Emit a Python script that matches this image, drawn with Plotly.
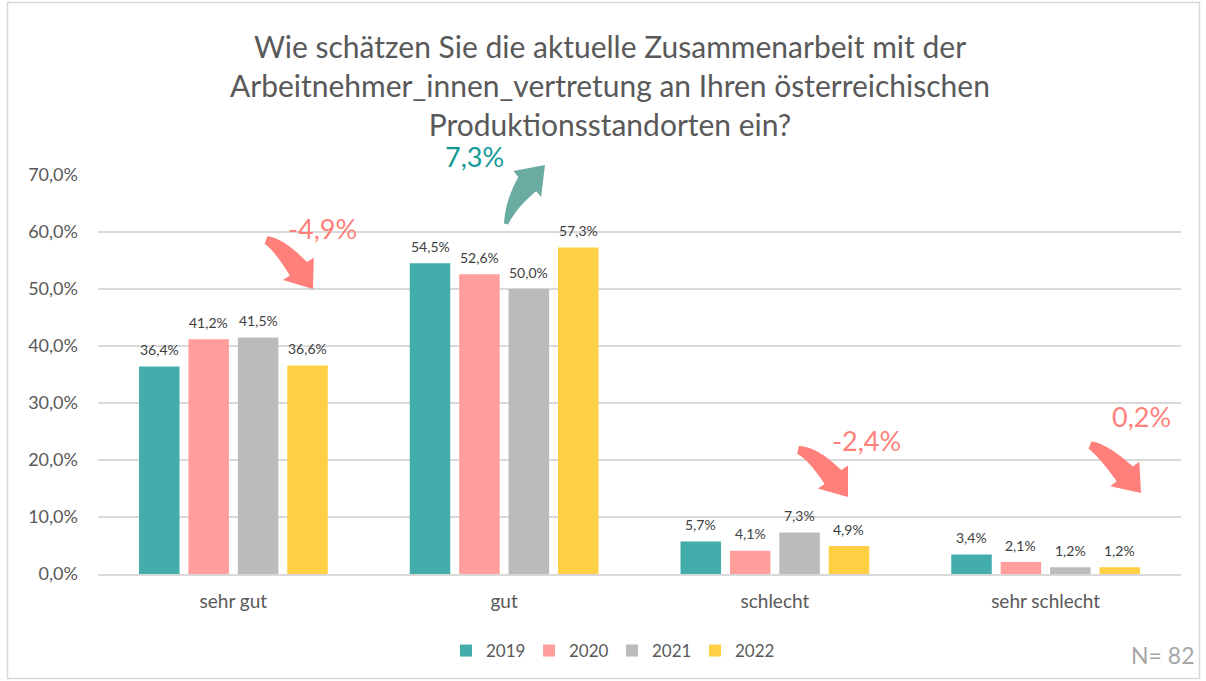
import plotly.graph_objects as go
import numpy as np

categories = ["sehr gut", "gut", "schlecht", "sehr schlecht"]
years = ["2019", "2020", "2021", "2022"]
v2019 = [36.4, 54.5, 5.7, 3.4]
v2020 = [41.2, 52.6, 4.1, 2.1]
v2021 = [41.5, 50.0, 7.3, 1.2]
v2022 = [36.6, 57.3, 4.9, 1.2]
series = [v2019, v2020, v2021, v2022]
colors = ["#42ADAA", "#FF9E9A", "#BBBBBB", "#FFD043"]
changes = ["-4,9%", "7,3%", "-2,4%", "0,2%"]
ytick_vals = [0, 10, 20, 30, 40, 50, 60, 70]
ytick_text = ["0,0%", "10,0%", "20,0%", "30,0%", "40,0%", "50,0%", "60,0%", "70,0%"]

W, H = 1206, 681
L, R, T, B = 98, 25, 175, 107
PW, PH = W - L - R, H - T - B
YMAX = 70

def px(x):
    return (x - L) / PW

def py(y):
    return (H - B - y) / PH

FONT = "Lato"
fig = go.Figure()
for name, vals, c in zip(years, series, colors):
    fig.add_trace(go.Bar(name=name, x=categories, y=vals, marker_color=c,
                         marker_line_width=0))

bargap = 0.27
slot = (1 - bargap) / 4
annotations = []
for i, vals in enumerate(series):
    for j, v in enumerate(vals):
        annotations.append(dict(x=j + (i - 1.5) * slot, y=v, xref="x", yref="y",
                                xanchor="center",
                                text=f"{v:.1f}%".replace(".", ","), showarrow=False,
                                yshift=17, font=dict(size=14, color="#404040", family=FONT)))

# change labels
lab_pos = [(322, 228), (474, 157), (866, 440), (1141, 416)]
lab_col = ["#FF7F7A", "#139A95", "#FF7F7A", "#FF7F7A"]
for t, (x, y), c in zip(changes, lab_pos, lab_col):
    annotations.append(dict(x=px(x), y=py(y), xref="paper", yref="paper", text=t,
                            xanchor="center", yanchor="middle",
                            showarrow=False, font=dict(size=27, color=c, family=FONT)))

annotations.append(dict(x=px(1162), y=py(655), xref="paper", yref="paper", text="N= 82",
                        xanchor="center", yanchor="middle",
                        showarrow=False, font=dict(size=23, color="#A6A6A6", family=FONT)))

annotations.append(dict(x=px(610), y=py(85), xref="paper", yref="paper",
                        text="Wie schätzen Sie die aktuelle Zusammenarbeit mit der<br>"
                             "Arbeitnehmer_innen_vertretung an Ihren österreichischen<br>"
                             "Produktionsstandorten ein?",
                        xanchor="center", yanchor="middle", align="center",
                        showarrow=False, font=dict(size=30, color="#595959", family=FONT)))


def arrow_path(p0, p1, p2, w0, w1, hl, hw):
    p0, p1, p2 = map(lambda p: np.array(p, float), (p0, p1, p2))
    ts = np.linspace(0, 1, 400)
    pts = np.array([(1 - t) ** 2 * p0 + 2 * (1 - t) * t * p1 + t ** 2 * p2 for t in ts])
    d = np.linalg.norm(pts - p2, axis=1)
    k = np.argmin(np.abs(d - hl))
    shaft = pts[:k + 1][::max(1, k // 30)]
    if not np.allclose(shaft[-1], pts[k]):
        shaft = np.vstack([shaft, pts[k]])
    n = len(shaft)
    left, right = [], []
    for idx in range(n):
        a = shaft[max(idx - 1, 0)]
        b = shaft[min(idx + 1, n - 1)]
        tan = b - a
        tan /= np.linalg.norm(tan)
        nor = np.array([-tan[1], tan[0]])
        w = (w0 + (w1 - w0) * idx / (n - 1)) / 2
        left.append(shaft[idx] + nor * w)
        right.append(shaft[idx] - nor * w)
    c = pts[k]
    dvec = p2 - c
    dvec /= np.linalg.norm(dvec)
    nor = np.array([-dvec[1], dvec[0]])
    poly = left + [c + nor * hw, p2, c - nor * hw] + right[::-1]
    s = "M " + " L ".join(f"{px(x):.5f},{py(y):.5f}" for x, y in poly) + " Z"
    return s

arrows = [
    ((266, 240), (284, 246), (313, 289), "#FF7F7A", 8, 22, 25, 19),
    ((506, 224), (514, 194), (545, 165), "#6AABA2", 4, 23, 26, 19),
    ((798, 450), (818, 454), (848, 497), "#FF7F7A", 8, 22, 25, 19),
    ((1090, 445), (1108, 452), (1141, 493), "#FF7F7A", 8, 22, 25, 19),
]
shapes = []
for p0, p1, p2, col, w0, w1, hl, hw in arrows:
    shapes.append(dict(type="path", xref="paper", yref="paper",
                       path=arrow_path(p0, p1, p2, w0, w1, hl, hw),
                       fillcolor=col, line=dict(width=0), layer="above"))

shapes.append(dict(type="rect", xref="paper", yref="paper", x0=px(7.5), x1=px(1199.5),
                   y0=py(2.5), y1=py(678.5), line=dict(color="#D9D9D9", width=1.5)))

fig.update_layout(
    width=W, height=H,
    margin=dict(l=L, r=R, t=T, b=B),
    paper_bgcolor="white", plot_bgcolor="white",
    separators=",.",
    barmode="group", bargap=bargap, bargroupgap=0.18,
    font=dict(family=FONT, color="#595959"),
    xaxis=dict(showgrid=False, showline=True, linecolor="#D9D9D9", linewidth=1.5,
               tickfont=dict(size=19, color="#595959"), ticks="",
               ticklabelstandoff=9),
    yaxis=dict(range=[0, YMAX], tickvals=ytick_vals, ticktext=ytick_text,
               showgrid=True, gridcolor="#D9D9D9", gridwidth=1.5,
               zeroline=False, showline=False,
               tickfont=dict(size=18, color="#595959"), ticklabelstandoff=19),
    legend=dict(orientation="h", x=px(612), xanchor="center", y=py(651), yanchor="middle",
                font=dict(size=17, color="#595959"), traceorder="normal",
                itemwidth=30, tracegroupgap=0, entrywidth=38, entrywidthmode="pixels"),
    annotations=annotations,
    shapes=shapes,
)
fig.write_html("out.html", post_script="document.body.style.margin='0';",
               config={"displayModeBar": False})
